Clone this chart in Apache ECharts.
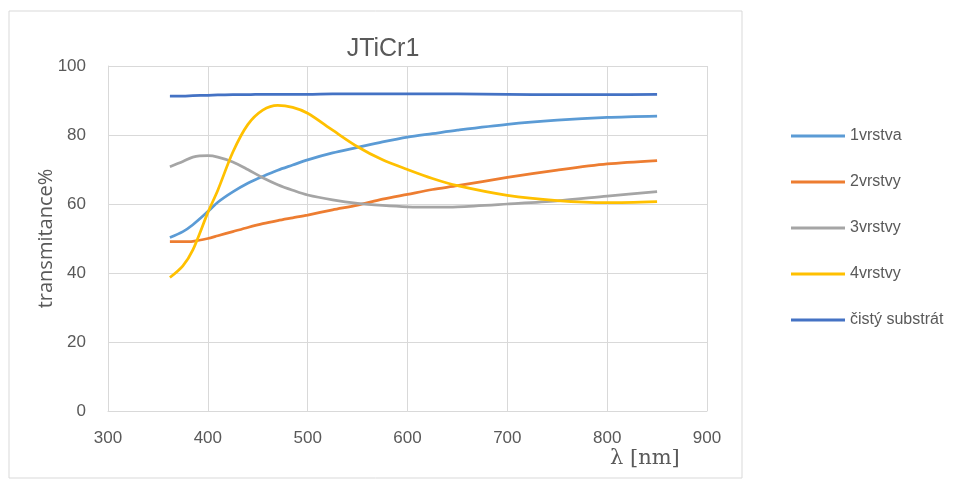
<!DOCTYPE html>
<html><head><meta charset="utf-8">
<script src="https://cdn.jsdelivr.net/npm/echarts@6/dist/echarts.min.js"></script>
<style>html,body{margin:0;padding:0;background:#fff}#c{width:978px;height:481px}</style>
</head><body><div id="c"></div>
<script>
const wavelengths = [362, 375, 385, 400, 410, 425, 440, 455, 470, 485, 500, 525, 550, 575, 600, 625, 650, 700, 750, 800, 850];
const vrstva1 = [50.3, 52, 54, 57.8, 60.5, 63.5, 66, 68, 69.8, 71.3, 72.8, 74.8, 76.4, 78, 79.4, 80.4, 81.4, 83.1, 84.3, 85.1, 85.5];
const vrstvy2 = [49.1, 49.1, 49.2, 50, 50.8, 52, 53.2, 54.3, 55.2, 56, 56.8, 58.3, 59.7, 61.4, 62.8, 64.2, 65.3, 67.7, 69.8, 71.6, 72.6];
const vrstvy3 = [70.8, 72.3, 73.6, 74, 73.6, 72.2, 70, 67.6, 65.6, 64, 62.6, 61.2, 60.2, 59.6, 59.2, 59.1, 59.2, 60, 60.9, 62.3, 63.6];
const vrstvy4 = [38.7, 42.1, 46.7, 57.5, 64, 75, 83, 87.2, 88.6, 88, 86.3, 81.4, 76.6, 72.8, 70, 67.4, 65.3, 62.5, 61, 60.4, 60.7];
const substrat = [91.3, 91.3, 91.4, 91.5, 91.6, 91.7, 91.7, 91.8, 91.8, 91.8, 91.8, 91.9, 91.9, 91.9, 91.9, 91.9, 91.9, 91.8, 91.7, 91.7, 91.8];
const seriesNames = ['1vrstva', '2vrstvy', '3vrstvy', '4vrstvy', 'čistý substrát'];
const seriesColors = ['#5b9bd5', '#ed7d31', '#a5a5a5', '#ffc000', '#4472c4'];
const xTicks = [300, 400, 500, 600, 700, 800, 900];
const yTicks = [0, 20, 40, 60, 80, 100];
const allValues = [vrstva1, vrstvy2, vrstvy3, vrstvy4, substrat];

const chart = echarts.init(document.getElementById('c'));
const txt = '#595959';
chart.setOption({
  animation: false,
  title: { text: 'JTiCr1', left: 378, top: 32, textAlign: 'center',
    textStyle: { color: txt, fontSize: 25, fontWeight: 'normal', fontFamily: 'Liberation Sans Narrow, Liberation Sans, sans-serif' } },
  graphic: [
    { type: 'rect', shape: { x: 9, y: 11, width: 733, height: 467 }, style: { fill: 'none', stroke: '#d9d9d9', lineWidth: 1 }, z: -1 },
    { type: 'text', left: 610, top: 448, style: { text: 'λ [nm]', fill: txt, fontSize: 21, fontFamily: 'DejaVu Serif, Liberation Serif, serif' } }
  ],
  legend: {
    orient: 'vertical', left: 786, top: 123, itemGap: 30, itemWidth: 54, itemHeight: 3,
    icon: 'rect',
    textStyle: { color: txt, fontSize: 16, fontFamily: 'Liberation Sans Narrow, Liberation Sans, sans-serif' },
    data: seriesNames
  },
  grid: { left: 108, right: 271, top: 66, bottom: 70, containLabel: false },
  xAxis: {
    type: 'value', min: xTicks[0], max: xTicks[xTicks.length - 1], interval: 100,
    axisLine: { show: true, lineStyle: { color: '#d9d9d9' } },
    axisTick: { show: false },
    axisLabel: { color: txt, fontSize: 17, margin: 19 },
    splitLine: { show: true, lineStyle: { color: '#d9d9d9', width: 1 } }
  },
  yAxis: {
    type: 'value', min: yTicks[0], max: yTicks[yTicks.length - 1], interval: 20,
    name: 'transmitance%', nameLocation: 'middle', nameGap: 52, nameRotate: 90, nameMoveOverlap: false,
    nameTextStyle: { color: txt, fontSize: 20, fontFamily: 'Open Sans, Liberation Sans, sans-serif' },
    axisLine: { show: true, lineStyle: { color: '#d9d9d9' } },
    axisTick: { show: false },
    axisLabel: { color: txt, fontSize: 17, margin: 22 },
    splitLine: { show: true, lineStyle: { color: '#d9d9d9', width: 1 } }
  },
  series: seriesNames.map((n, i) => ({
    name: n, type: 'line', showSymbol: false, smooth: 0.3,
    lineStyle: { color: seriesColors[i], width: 2.75 }, itemStyle: { color: seriesColors[i] },
    data: wavelengths.map((w, j) => [w, allValues[i][j]])
  }))
});
</script></body></html>
